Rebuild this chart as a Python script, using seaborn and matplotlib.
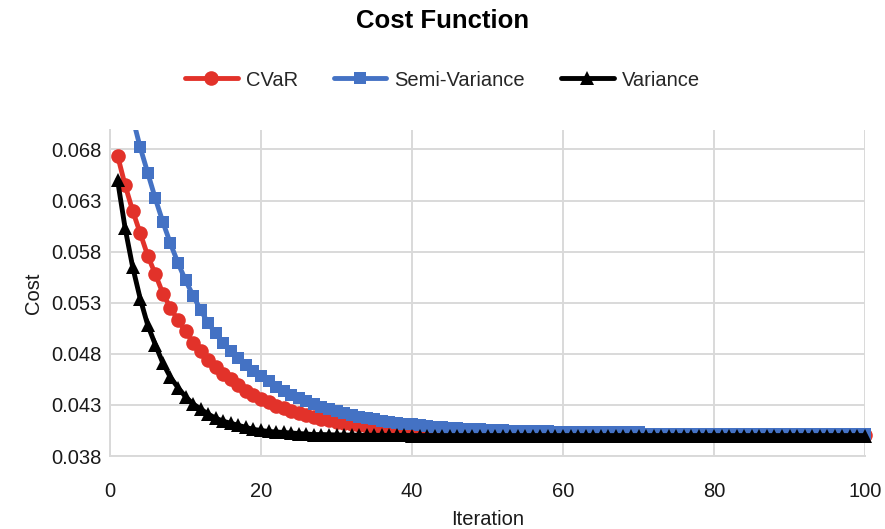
import matplotlib
matplotlib.use("Agg")
import matplotlib.pyplot as plt
import seaborn as sns
import pandas as pd
from matplotlib.patches import Rectangle

# Optimisation cost per iteration for three risk measures
iterations = list(range(1, 101))

cvar = [
    0.0674, 0.0645, 0.0620, 0.0598, 0.0576, 0.0558, 0.0539, 0.0525, 0.0513, 0.0502,
    0.0491, 0.0483, 0.0474, 0.0467, 0.0460, 0.0455, 0.0449, 0.0444, 0.0440, 0.0436,
    0.0433, 0.0429, 0.0427, 0.0424, 0.0422, 0.0420, 0.0418, 0.0416, 0.0415, 0.0413,
    0.0412, 0.0411, 0.0410, 0.0409, 0.0408, 0.04075, 0.0407, 0.0406, 0.0406, 0.0405,
    0.0405, 0.0404, 0.0404, 0.0404, 0.04035, 0.0403, 0.0403, 0.0403, 0.0403, 0.04025,
    0.0402, 0.0402, 0.0402, 0.0402, 0.0402, 0.0402, 0.0402, 0.0402, 0.0402, 0.0402,
    0.04015, 0.04015, 0.04015, 0.04015, 0.04015, 0.04015, 0.04015, 0.04015, 0.04015, 0.04015,
    0.0401, 0.0401, 0.0401, 0.0401, 0.0401, 0.0401, 0.0401, 0.0401, 0.0401, 0.0401,
    0.0401, 0.0401, 0.0401, 0.0401, 0.0401, 0.0401, 0.0401, 0.0401, 0.0401, 0.0401,
    0.0401, 0.0401, 0.0401, 0.0401, 0.0401, 0.0401, 0.0401, 0.0401, 0.0401, 0.0401,
]

semi_variance = [
    0.0779, 0.0742, 0.0711, 0.0682, 0.0657, 0.0632, 0.0609, 0.0588, 0.0569, 0.0552,
    0.0537, 0.0523, 0.0510, 0.0500, 0.0491, 0.0483, 0.0476, 0.0469, 0.0463, 0.0458,
    0.0453, 0.0448, 0.0444, 0.0440, 0.0437, 0.0434, 0.0431, 0.0428, 0.0426, 0.0424,
    0.0422, 0.0420, 0.0418, 0.0417, 0.0416, 0.0414, 0.0413, 0.0412, 0.0411, 0.0411,
    0.0410, 0.0409, 0.0408, 0.0408, 0.0407, 0.0407, 0.0406, 0.0406, 0.0406, 0.0405,
    0.0405, 0.0405, 0.0404, 0.0404, 0.0404, 0.0404, 0.0404, 0.0404, 0.0403, 0.0403,
    0.0403, 0.0403, 0.0403, 0.0403, 0.0403, 0.0403, 0.0403, 0.0403, 0.0403, 0.0403,
    0.0402, 0.0402, 0.0402, 0.0402, 0.0402, 0.0402, 0.0402, 0.0402, 0.0402, 0.0402,
    0.0402, 0.0402, 0.0402, 0.0402, 0.0402, 0.0402, 0.0402, 0.0402, 0.0402, 0.0402,
    0.0402, 0.0402, 0.0402, 0.0402, 0.0402, 0.0402, 0.0402, 0.0402, 0.0402, 0.0402,
]

variance = [
    0.0650, 0.0603, 0.0565, 0.0534, 0.0508, 0.0489, 0.0471, 0.0457, 0.0447, 0.0438,
    0.0431, 0.0426, 0.0421, 0.0417, 0.0414, 0.0412, 0.0410, 0.0408, 0.0406, 0.0405,
    0.0404, 0.04035, 0.0403, 0.04025, 0.0402, 0.04015, 0.0401, 0.0401, 0.04008, 0.04006,
    0.04005, 0.04004, 0.04003, 0.04003, 0.04002, 0.04002, 0.04001, 0.04001, 0.04001, 0.0400,
    0.0400, 0.0400, 0.0400, 0.0400, 0.0400, 0.0400, 0.0400, 0.0400, 0.0400, 0.0400,
    0.0400, 0.0400, 0.0400, 0.0400, 0.0400, 0.0400, 0.0400, 0.0400, 0.0400, 0.0400,
    0.0400, 0.0400, 0.0400, 0.0400, 0.0400, 0.0400, 0.0400, 0.0400, 0.0400, 0.0400,
    0.0400, 0.0400, 0.0400, 0.0400, 0.0400, 0.0400, 0.0400, 0.0400, 0.0400, 0.0400,
    0.0400, 0.0400, 0.0400, 0.0400, 0.0400, 0.0400, 0.0400, 0.0400, 0.0400, 0.0400,
    0.0400, 0.0400, 0.0400, 0.0400, 0.0400, 0.0400, 0.0400, 0.0400, 0.0400, 0.0400,
]

series_names = ["CVaR", "Semi-Variance", "Variance"]
x_ticks = [0, 20, 40, 60, 80, 100]
y_ticks = [0.038, 0.043, 0.048, 0.053, 0.058, 0.063, 0.068]

df = pd.DataFrame({
    "Iteration": iterations * 3,
    "Cost": cvar + semi_variance + variance,
    "Series": [name for name in series_names for _ in iterations],
})

sns.set_theme(style="white")
plt.rcParams["font.family"] = ["Liberation Sans", "DejaVu Sans"]

colors = {"CVaR": "#E2322A", "Semi-Variance": "#4472C4", "Variance": "#000000"}
markers = {"CVaR": "o", "Semi-Variance": "s", "Variance": "^"}
msizes = {"CVaR": 10.5, "Semi-Variance": 9.0, "Variance": 10.0}

fig = plt.figure(figsize=(8.85, 5.29), dpi=100)
ax = fig.add_axes([110 / 885, 1 - 456 / 529, (865 - 110) / 885, (456 - 130) / 529])

for name in series_names:
    sns.lineplot(
        data=df[df["Series"] == name], x="Iteration", y="Cost", ax=ax,
        color=colors[name], marker=markers[name], markersize=msizes[name],
        markeredgewidth=0, linewidth=3.5, label=name, legend=False,
    )

# let markers spill past the left/right edges but clip anything above the top
clip = Rectangle((-0.03, 0.0), 1.06, 1.0, transform=ax.transAxes)
for line in ax.lines:
    line.set_clip_path(clip)

ax.set_xlim(0, 100)
ax.set_ylim(0.038, 0.0699)
ax.set_xticks(x_ticks)
ax.set_yticks(y_ticks)
ax.set_yticklabels([f"{v:.3f}" for v in y_ticks])
ax.tick_params(axis="both", length=0, labelsize=14.5, labelcolor="#1a1a1a")
ax.tick_params(axis="x", pad=19)
ax.tick_params(axis="y", pad=6)

ax.grid(True, color="#d9d9d9", linewidth=1.4)
ax.set_axisbelow(True)
for side in ["top", "right"]:
    ax.spines[side].set_visible(False)
for side in ["left", "bottom"]:
    ax.spines[side].set_color("#d9d9d9")
    ax.spines[side].set_linewidth(1.4)

ax.set_xlabel("Iteration", fontsize=14.5, color="#1a1a1a", labelpad=6)
ax.set_ylabel("Cost", fontsize=14.5, color="#1a1a1a", labelpad=6)

fig.text(0.5, 1 - 21 / 529, "Cost Function", ha="center", va="center",
         fontsize=18.5, fontweight="bold", color="#000000")

handles, labels = ax.get_legend_handles_labels()
fig.legend(handles, labels, loc="center", bbox_to_anchor=(0.5, 1 - 80 / 529),
           ncol=3, frameon=False, fontsize=14.5, handlelength=2.6,
           handletextpad=0.4, columnspacing=1.8)

fig.savefig("out.png", dpi=100)
